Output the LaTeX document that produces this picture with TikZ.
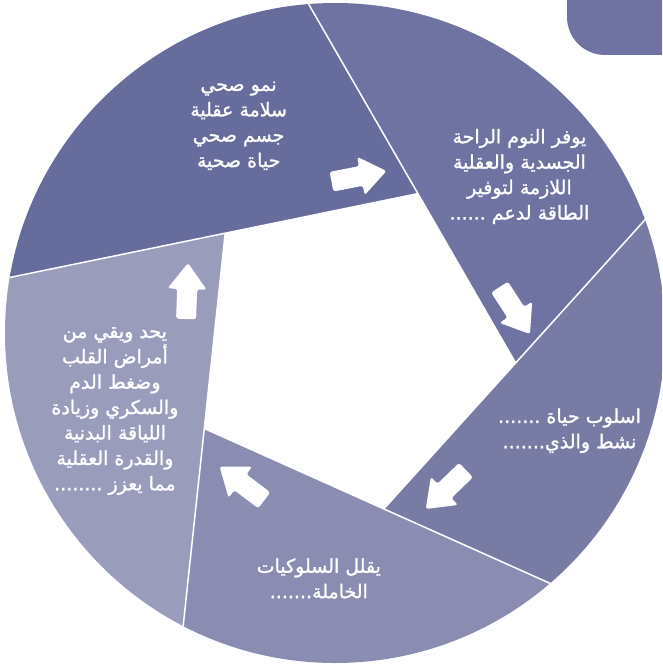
\documentclass[tikz,border=0pt]{standalone}
\usepackage{fontspec}
\usetikzlibrary{calc}
\newfontfamily\arabicfont[Script=Arabic, FakeBold=1.3, AutoFakeBold=1.3]{DejaVu Sans}
\TeXXeTstate=1
\definecolor{bladeA}{RGB}{102,108,155}
\definecolor{bladeB}{RGB}{110,115,162}
\definecolor{bladeC}{RGB}{120,124,165}
\definecolor{bladeD}{RGB}{138,140,178}
\definecolor{bladeE}{RGB}{154,156,188}
\tikzset{
  lbl/.style={text=white, align=center, inner sep=0pt,
    font=\arabicfont\fontsize{19}{25.4}\selectfont},
  sep/.style={draw=white, line width=1.5pt},
  blockarrow/.pic={
    \fill[white, rounded corners=2.5pt]
      (0,-10) -- (30,-10) -- (30,-19.5) -- (56,0) -- (30,19.5) -- (30,10) -- (0,10) -- cycle;
  }
}
\begin{document}
\begin{tikzpicture}[x=1pt, y=-1pt]
\useasboundingbox (0,0) rectangle (662,666);
\clip (0,0) rectangle (662,666);

% corner tab
\fill[bladeB, rounded corners=38pt] (567,-80) rectangle (720,55);

% inner pentagon vertices
\coordinate (A) at (417.9,193.6);
\coordinate (B) at (515.6,363.0);
\coordinate (C) at (383.8,508.9);
\coordinate (D) at (204.3,428.5);
\coordinate (E) at (225.2,233.2);
\coordinate (O) at (335,333);

\begin{scope}
  \clip (O) circle[radius=330];
  \fill[bladeA] (A) -- ($(A)!-4!(B)$) -- ($(A)!4!(E)$) -- cycle;
  \fill[bladeB] (B) -- ($(B)!-4!(C)$) -- ($(B)!4!(A)$) -- cycle;
  \fill[bladeC] (C) -- ($(C)!-4!(D)$) -- ($(C)!4!(B)$) -- cycle;
  \fill[bladeD] (D) -- ($(D)!-4!(E)$) -- ($(D)!4!(C)$) -- cycle;
  \fill[bladeE] (E) -- ($(E)!-4!(A)$) -- ($(E)!4!(D)$) -- cycle;
  \fill[white] (A) -- (B) -- (C) -- (D) -- (E) -- cycle;
  % white seams between the blades
  \draw[sep] ($(A)!-4!(B)$) -- (B);
  \draw[sep] ($(B)!-4!(C)$) -- (C);
  \draw[sep] ($(C)!-4!(D)$) -- (D);
  \draw[sep] ($(D)!-4!(E)$) -- (E);
  \draw[sep] ($(E)!-4!(A)$) -- (A);
\end{scope}

% flow arrows
\pic[rotate=11]  at (331.5,181.7) {blockarrow};
\pic[rotate=-57] at (499.5,287.1) {blockarrow};
\pic[rotate=224] at (466.0,470.1) {blockarrow};
\pic[rotate=143] at (264.3,500.3) {blockarrow};
\pic[rotate=88]  at (186.1,319.0) {blockarrow};

% texts
\node[lbl] (t1) at (238.6,125.8) {\beginR نمو صحي\endR\\\beginR سلامة عقلية\endR\\\beginR جسم صحي\endR\\\beginR حياة صحية\endR};
\node[lbl] (t2) at (519.4,176.5) {\beginR يوفر النوم الراحة\endR\\\beginR الجسدية والعقلية\endR\\\beginR اللازمة لتوفير\endR\\\beginR الطاقة لدعم ......\endR};
\node[lbl] (t3) at (569.5,430.7) {\beginR اسلوب حياة .......\endR\\\beginR نشط والذي.......\endR};
\node[lbl] (t4) at (318.8,578.5) {\beginR يقلل السلوكيات\endR\\\beginR الخاملة.......\endR};
\node[lbl] (t5) at (114.9,411.1) {\beginR يحد ويقي من\endR\\\beginR أمراض القلب\endR\\\beginR وضغط الدم\endR\\\beginR والسكري وزيادة\endR\\\beginR اللياقة البدنية\endR\\\beginR والقدرة العقلية\endR\\\beginR مما يعزز ........\endR};
\end{tikzpicture}
\end{document}
